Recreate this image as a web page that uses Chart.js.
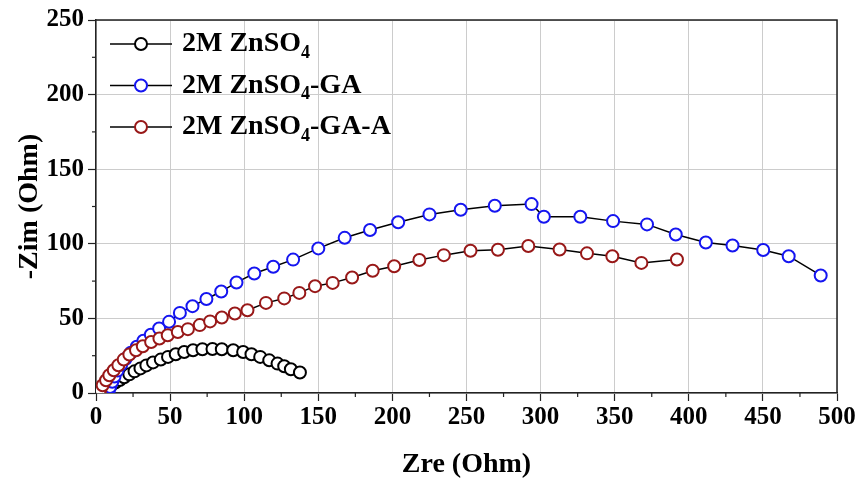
<!DOCTYPE html>
<html>
<head>
<meta charset="utf-8">
<script src="https://cdn.jsdelivr.net/npm/chart.js@4.4.0/dist/chart.umd.min.js"></script>
<style>
  html, body { margin: 0; padding: 0; background: #fff; }
  #nyquist { display: block; }
</style>
</head>
<body>
<canvas id="nyquist" width="858" height="479"></canvas>
<script>
// series (Zre, -Zim in Ohm)
const znso4Zre = [3.5, 5, 6.5, 8.5, 10.5, 13, 16, 19, 22.5, 26, 30, 34, 38.5, 43.7, 48.6, 53.8, 59.5, 65.5, 71.8, 78.6, 84.9, 92.6, 99.3, 104.9, 110.8, 116.9, 122.5, 127, 131.5, 137.6];
const znso4Zim = [0.3, 1.2, 2.5, 4, 5.5, 7, 8.7, 10.5, 12.5, 14.5, 16.5, 18.5, 20.5, 22.4, 24.2, 26, 27.5, 28.7, 29.3, 29.5, 29.3, 28.7, 27.5, 26, 24.2, 21.9, 19.7, 17.9, 15.9, 13.7];

const gaZre = [8.5, 9.5, 11, 12.5, 14.5, 17, 20, 23.5, 27.5, 32, 37, 42.6, 49.3, 56.6, 65.1, 74.5, 84.5, 94.8, 106.8, 119.6, 133, 150, 167.8, 184.9, 203.9, 225, 246.1, 269.1, 293.9, 302.2, 326.8, 348.9, 371.8, 391.2, 411.5, 429.5, 450.2, 467.4, 489];
const gaZim = [1, 4, 7.5, 11, 15, 19, 23, 27, 31, 35, 39, 43.2, 47.7, 53.7, 58.2, 63, 68, 74.1, 80.1, 84.6, 89.4, 96.9, 104, 109.2, 114.4, 119.7, 122.8, 125.5, 126.6, 118.1, 118.1, 115.2, 113, 106.2, 100.9, 98.9, 95.8, 91.7, 78.8];

const gaaZre = [1.5, 2.9, 4.5, 6.8, 9, 12, 15.1, 18.7, 22.5, 27, 31.6, 37.2, 42.8, 48.4, 55.2, 62, 70, 77, 84.9, 93.7, 102.2, 114.7, 127, 137.2, 147.8, 159.7, 172.8, 186.7, 201.2, 218.2, 234.7, 252.7, 271.2, 291.7, 312.8, 331.3, 348.4, 368, 392];
const gaaZim = [0.5, 2.3, 5.2, 8.5, 11.9, 15.2, 18.6, 22.4, 25.8, 28.7, 31.3, 34.2, 36.5, 38.7, 40.9, 42.8, 45.5, 48, 50.6, 53.3, 55.5, 60.4, 63.4, 67.1, 71.6, 73.8, 77.4, 81.9, 85, 89.1, 92.4, 95.3, 96, 98.5, 96.2, 93.6, 91.7, 87.2, 89.5];

const legendSuffix = ['', '-GA', '-GA-A'];
const seriesColors = ['#000000', '#1515f0', '#981818'];

const serif = '"Liberation Serif", "Times New Roman", serif';

function toPoints(xs, ys) {
  return xs.map((x, i) => ({ x: x, y: ys[i] }));
}

function makeSet(label, xs, ys, color, order) {
  return {
    label: label,
    data: toPoints(xs, ys),
    showLine: true,
    borderColor: '#000',
    borderWidth: 1.5,
    pointBorderColor: color,
    pointBackgroundColor: '#fff',
    pointRadius: 6,
    pointBorderWidth: 2,
    order: order
  };
}

// minor ticks + top/right frame
const framePlugin = {
  id: 'frame',
  afterDraw(chart) {
    const { ctx, chartArea: a, scales } = chart;
    ctx.save();
    ctx.strokeStyle = '#222';
    ctx.lineWidth = 1.5;
    ctx.beginPath();
    ctx.moveTo(a.left, a.top); ctx.lineTo(a.right, a.top); ctx.lineTo(a.right, a.bottom);
    ctx.stroke();
    ctx.lineWidth = 1.2;
    for (let v = 25; v < 500; v += 50) {
      const px = scales.x.getPixelForValue(v);
      ctx.beginPath(); ctx.moveTo(px, a.bottom); ctx.lineTo(px, a.bottom + 4); ctx.stroke();
    }
    for (let v = 25; v < 250; v += 50) {
      const py = scales.y.getPixelForValue(v);
      ctx.beginPath(); ctx.moveTo(a.left, py); ctx.lineTo(a.left - 4, py); ctx.stroke();
    }
    ctx.restore();
  }
};

// legend: line with open marker, ZnSO4 with subscript
const legendPlugin = {
  id: 'nyquistLegend',
  afterDraw(chart) {
    const { ctx, chartArea: a } = chart;
    ctx.save();
    chart.data.datasets.forEach((ds, i) => {
      const y = a.top + 24 + i * 41.5;
      const x0 = a.left + 14;
      ctx.strokeStyle = '#000';
      ctx.lineWidth = 1.5;
      ctx.beginPath(); ctx.moveTo(x0, y); ctx.lineTo(x0 + 62, y); ctx.stroke();
      ctx.beginPath();
      ctx.arc(x0 + 31, y, 6, 0, Math.PI * 2);
      ctx.fillStyle = '#fff'; ctx.fill();
      ctx.strokeStyle = ds.pointBorderColor; ctx.lineWidth = 2; ctx.stroke();

      ctx.fillStyle = '#000';
      ctx.textAlign = 'left';
      ctx.textBaseline = 'middle';
      let x = x0 + 72;
      ctx.font = 'bold 28px ' + serif;
      ctx.fillText('2M ZnSO', x, y);
      x += ctx.measureText('2M ZnSO').width;
      ctx.font = 'bold 18px ' + serif;
      ctx.fillText('4', x, y + 9);
      x += ctx.measureText('4').width;
      ctx.font = 'bold 28px ' + serif;
      ctx.fillText(legendSuffix[i], x, y);
    });
    ctx.restore();
  }
};

const ctx = document.getElementById('nyquist').getContext('2d');
new Chart(ctx, {
  type: 'scatter',
  data: {
    datasets: [
      makeSet('2M ZnSO4', znso4Zre, znso4Zim, seriesColors[0], 3),
      makeSet('2M ZnSO4-GA', gaZre, gaZim, seriesColors[1], 2),
      makeSet('2M ZnSO4-GA-A', gaaZre, gaaZim, seriesColors[2], 1)
    ]
  },
  options: {
    responsive: false,
    animation: false,
    layout: { padding: { top: 20, right: 21, left: 0, bottom: 0 } },
    plugins: {
      legend: { display: false },
      tooltip: { enabled: false }
    },
    scales: {
      x: {
        type: 'linear',
        min: 0,
        max: 500,
        afterFit(scale) { scale.height = 86; },
        ticks: {
          stepSize: 50,
          color: '#000',
          padding: 2,
          maxRotation: 0,
          font: { family: serif, size: 25, weight: 'bold' }
        },
        grid: { color: '#cccccc', lineWidth: 1, tickColor: '#222', tickLength: 8, tickWidth: 1.2 },
        border: { color: '#222', width: 1.5 },
        title: {
          display: true,
          text: 'Zre (Ohm)',
          color: '#000',
          padding: { top: 0, bottom: 0 },
          font: { family: serif, size: 28, weight: 'bold', lineHeight: 1.0 }
        }
      },
      y: {
        type: 'linear',
        min: 0,
        max: 250,
        afterFit(scale) { scale.width = 96; },
        ticks: {
          stepSize: 50,
          color: '#000',
          padding: 4,
          font: { family: serif, size: 25, weight: 'bold' }
        },
        grid: { color: '#cccccc', lineWidth: 1, tickColor: '#222', tickLength: 8, tickWidth: 1.2 },
        border: { color: '#222', width: 1.5 },
        title: {
          display: true,
          text: '-Zim (Ohm)',
          color: '#000',
          padding: { top: 13, bottom: 0 },
          font: { family: serif, size: 28, weight: 'bold' }
        }
      }
    }
  },
  plugins: [framePlugin, legendPlugin]
});
</script>
</body>
</html>
